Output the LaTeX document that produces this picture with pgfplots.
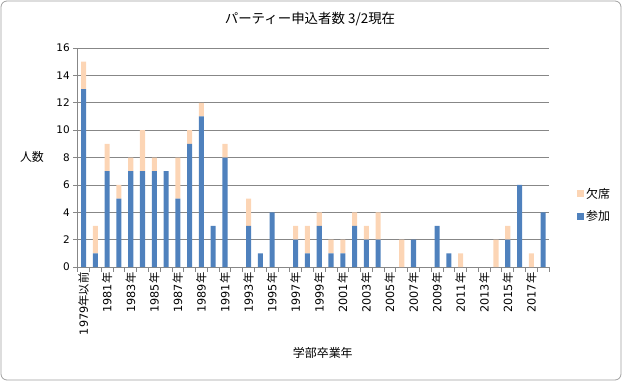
\documentclass[border=0pt]{standalone}
\usepackage{fontspec}
\setmainfont{DejaVu Sans}
\newfontfamily\cjk{Noto Sans CJK JP}
\usepackage{pgfplots}
\usepackage{pgfplotstable}
\pgfplotsset{compat=1.18}
\definecolor{sanka}{HTML}{4F81BD}
\definecolor{kesseki}{HTML}{FCD5B5}
\definecolor{gridc}{HTML}{878787}
\definecolor{framec}{HTML}{A0A0A0}

\pgfplotstableread{
x a b
0 13 2
1 1 2
2 7 2
3 5 1
4 7 1
5 7 3
6 7 1
7 7 0
8 5 3
9 9 1
10 11 1
11 3 0
12 8 1
13 0 0
14 3 2
15 1 0
16 4 0
17 0 0
18 2 1
19 1 2
20 3 1
21 1 1
22 1 1
23 3 1
24 2 1
25 2 2
26 0 0
27 0 2
28 2 0
29 0 0
30 3 0
31 1 0
32 0 1
33 0 0
34 0 0
35 0 2
36 2 1
37 6 0
38 0 1
39 4 0
}\data

\newcommand{\nen}[1]{#1{\cjk 年}}

\begin{document}
\begin{tikzpicture}
\useasboundingbox (0bp,0bp) rectangle (622bp,-381bp);
\draw[framec, rounded corners=6bp, line width=0.8bp] (1bp,-1bp) rectangle (621bp,-380bp);
\node[font=\cjk\fontsize{13.5}{15}\selectfont] at (310bp,-19bp) {パーティー申込者数 3/2現在};
\begin{axis}[
  at={(77.7bp,-267bp)}, anchor=south west, scale only axis,
  width=471.3bp, height=219bp,
  ybar stacked, bar width=0.43,
  xmin=-0.5, xmax=39.5, ymin=0, ymax=16,
  ytick={0,2,...,16},
  ymajorgrids, grid style={gridc, line width=0.75bp},
  axis x line*=bottom, axis y line*=left,
  axis line style={-, draw=gridc, line width=0.75bp},
  tick align=outside, major tick length=4.5bp,
  tick style={gridc, line width=0.75bp},
  xtick={-0.5,0.5,...,39.5}, xticklabels={},
  extra x ticks={0,2,...,38},
  extra x tick labels={\nen{1979}{\cjk 以前},\nen{1981},\nen{1983},\nen{1985},\nen{1987},\nen{1989},\nen{1991},\nen{1993},\nen{1995},\nen{1997},\nen{1999},\nen{2001},\nen{2003},\nen{2005},\nen{2007},\nen{2009},\nen{2011},\nen{2013},\nen{2015},\nen{2017}},
  extra x tick style={tick style={draw=none}, grid=none},
  x tick label style={rotate=90, anchor=east, font=\fontsize{11.3}{13}\selectfont, inner sep=1bp},
  y tick label style={font=\fontsize{10.5}{12}\selectfont},
  /pgf/number format/assume math mode=true,
  xlabel={学部卒業年}, ylabel={人数},
  every axis x label/.style={at={(axis description cs:0.52,-0.393)}, anchor=center, font=\cjk\fontsize{12}{14}\selectfont},
  every axis y label/.style={at={(axis description cs:-0.097,0.502)}, anchor=center, font=\cjk\fontsize{12}{14}\selectfont},
  legend style={at={(1.097,0.283)}, anchor=center, draw=none, fill=none,
    font=\cjk\fontsize{12}{14}\selectfont, row sep=7bp,
    legend cell align=left},
  reverse legend,
  legend image code/.code={\fill[#1] (0bp,-3.3bp) rectangle (6.6bp,3.3bp);},
]
\addplot[fill=sanka, draw=none] table[x=x, y=a] {\data};
\addlegendentry{参加}
\addplot[fill=kesseki, draw=none] table[x=x, y=b] {\data};
\addlegendentry{欠席}
\end{axis}
\end{tikzpicture}
\end{document}
